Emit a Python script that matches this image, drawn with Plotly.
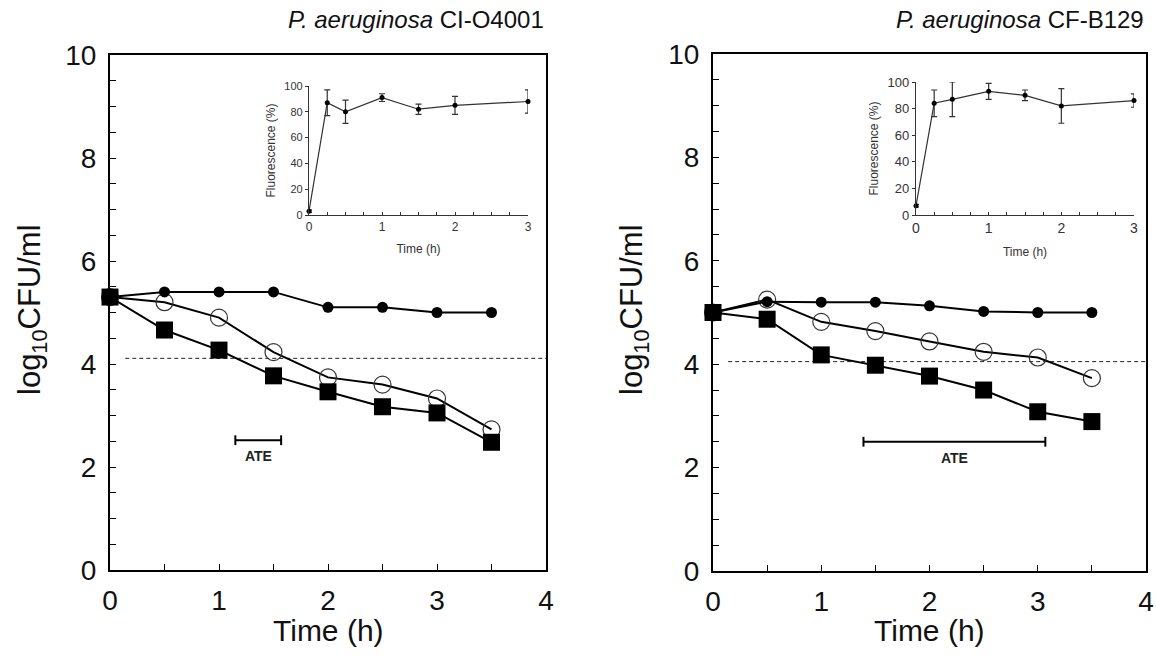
import plotly.graph_objects as go

W, H = 1156, 657

# ---------------- data ----------------
time_main = [0, 0.5, 1, 1.5, 2, 2.5, 3, 3.5]

# Left panel: P. aeruginosa CI-O4001
left_filled = [5.3, 5.4, 5.4, 5.4, 5.1, 5.1, 5.0, 5.0]
left_open = [5.3, 5.2, 4.9, 4.23, 3.74, 3.6, 3.33, 2.73]
left_square = [5.3, 4.66, 4.27, 3.77, 3.46, 3.17, 3.05, 2.48]
left_threshold = 4.11
left_ate = [1.15, 1.57]
left_ate_y = 2.52

# Right panel: P. aeruginosa CF-B129
right_filled = [5.0, 5.21, 5.2, 5.2, 5.13, 5.02, 5.0, 5.0]
right_open = [5.0, 5.25, 4.82, 4.64, 4.44, 4.24, 4.13, 3.73]
right_square = [5.0, 4.87, 4.18, 3.98, 3.77, 3.5, 3.08, 2.89]
right_threshold = 4.05
right_ate = [1.39, 3.07]
right_ate_y = 2.5

threshold_start = 0.14

# Insets (fluorescence %)
time_inset = [0, 0.25, 0.5, 1, 1.5, 2, 3]
left_fluor = [3, 87, 80, 91, 82, 85, 88]
left_fluor_err = [1, 10, 9, 3, 4, 7, 9]
right_fluor = [7, 84, 87, 93, 90, 82, 86]
right_fluor_err = [1, 10, 13, 6, 4, 13, 5]

titles = ["<i>P. aeruginosa</i> CI-O4001", "<i>P. aeruginosa</i> CF-B129"]

FONT = "Liberation Sans, Arial, sans-serif"

fig = go.Figure()

def px_x(a, b):
    return [a / W, b / W]

def px_y(top, bottom):
    return [(H - bottom) / H, (H - top) / H]

panels = [
    dict(xa="x", ya="y", filled=left_filled, opn=left_open, sq=left_square,
         thr=left_threshold, ate=left_ate, ate_y=left_ate_y),
    dict(xa="x2", ya="y2", filled=right_filled, opn=right_open, sq=right_square,
         thr=right_threshold, ate=right_ate, ate_y=right_ate_y),
]

for p in panels:
    fig.add_trace(go.Scatter(x=[threshold_start, 4], y=[p["thr"], p["thr"]], mode="lines",
                             line=dict(color="#222", width=1, dash="4px,3px"),
                             xaxis=p["xa"], yaxis=p["ya"], showlegend=False, hoverinfo="skip"))
    fig.add_trace(go.Scatter(x=time_main, y=p["opn"], mode="lines+markers",
                             line=dict(color="black", width=2),
                             marker=dict(symbol="circle-open", size=17, color="#333",
                                         line=dict(width=1.2, color="#333")),
                             xaxis=p["xa"], yaxis=p["ya"], showlegend=False, cliponaxis=False))
    fig.add_trace(go.Scatter(x=time_main, y=p["filled"], mode="lines+markers",
                             line=dict(color="black", width=2),
                             marker=dict(symbol="circle", size=11, color="black"),
                             xaxis=p["xa"], yaxis=p["ya"], showlegend=False, cliponaxis=False))
    fig.add_trace(go.Scatter(x=time_main, y=p["sq"], mode="lines+markers",
                             line=dict(color="black", width=2),
                             marker=dict(symbol="square", size=17, color="black"),
                             xaxis=p["xa"], yaxis=p["ya"], showlegend=False, cliponaxis=False))
    fig.add_trace(go.Scatter(x=p["ate"], y=[p["ate_y"], p["ate_y"]], mode="lines+markers",
                             line=dict(color="black", width=2),
                             marker=dict(symbol="line-ns-open", size=7, color="black",
                                         line=dict(width=2, color="black")),
                             xaxis=p["xa"], yaxis=p["ya"], showlegend=False))
    fig.add_annotation(x=sum(p["ate"]) / 2, y=p["ate_y"], xref=p["xa"], yref=p["ya"],
                       text="<b>ATE</b>", showarrow=False, yshift=-16,
                       font=dict(family=FONT, size=14, color="#222"))

insets = [
    dict(xa="x3", ya="y3", y=left_fluor, e=left_fluor_err),
    dict(xa="x4", ya="y4", y=right_fluor, e=right_fluor_err),
]
for q in insets:
    fig.add_trace(go.Scatter(x=time_inset, y=q["y"], mode="lines+markers",
                             line=dict(color="#333", width=1.2),
                             marker=dict(symbol="circle", size=5, color="black"),
                             error_y=dict(type="data", array=q["e"], visible=True,
                                          color="#333", thickness=1.2, width=3),
                             xaxis=q["xa"], yaxis=q["ya"], showlegend=False, cliponaxis=False))

main_x = dict(range=[0, 4], dtick=1, tick0=0, showline=True, linewidth=2, linecolor="black",
              mirror=True, ticks="inside", ticklen=6, tickwidth=1.2, tickcolor="black",
              minor=dict(dtick=0.5, ticks="inside", ticklen=6, tickwidth=1.2, tickcolor="black"),
              showgrid=False, zeroline=False, automargin=False,
              tickfont=dict(family=FONT, size=28, color="#111"), ticklabelstandoff=4)
main_y = dict(range=[0, 10], dtick=2, tick0=0, showline=True, linewidth=2, linecolor="black",
              mirror=True, ticks="inside", ticklen=6, tickwidth=1.2, tickcolor="black",
              minor=dict(dtick=0.5, ticks="inside", ticklen=6, tickwidth=1.2, tickcolor="black"),
              showgrid=False, zeroline=False, automargin=False,
              tickfont=dict(family=FONT, size=28, color="#111"), ticklabelstandoff=6)

def inset_x(fs):
    return dict(range=[0, 3], dtick=1, tick0=0, showline=True, linewidth=1.2, linecolor="#333",
                mirror=False, ticks="inside", ticklen=3, tickwidth=1, tickcolor="#333",
                minor=dict(dtick=0.25, ticks="inside", ticklen=3, tickwidth=1, tickcolor="#333"),
                showgrid=False, zeroline=False, automargin=False,
                tickfont=dict(family=FONT, size=fs, color="#333"),
                title=dict(text="Time (h)", font=dict(family=FONT, size=12, color="#333"),
                           standoff=12))

def inset_y(fs):
    return dict(range=[0, 100], dtick=20, tick0=0, showline=True, linewidth=1.2, linecolor="#333",
                mirror=False, ticks="outside", ticklen=3, tickwidth=1, tickcolor="#333",
                showgrid=False, zeroline=False, automargin=False,
                tickfont=dict(family=FONT, size=fs, color="#333"),
                title=dict(text="Fluorescence (%)", font=dict(family=FONT, size=12, color="#333"),
                           standoff=6))

fig.update_layout(
    width=W, height=H,
    margin=dict(l=0, r=0, t=0, b=0, autoexpand=False),
    paper_bgcolor="white", plot_bgcolor="rgba(0,0,0,0)",
    xaxis=dict(main_x, domain=px_x(110, 546), anchor="y"),
    yaxis=dict(main_y, domain=px_y(55, 570), anchor="x"),
    xaxis2=dict(main_x, domain=px_x(713, 1146), anchor="y2"),
    yaxis2=dict(main_y, domain=px_y(54, 571), anchor="x2"),
    xaxis3=dict(inset_x(12), domain=px_x(309, 528), anchor="y3"),
    yaxis3=dict(inset_y(11), domain=px_y(86, 215), anchor="x3"),
    xaxis4=dict(inset_x(14), domain=px_x(916, 1134), anchor="y4"),
    yaxis4=dict(inset_y(13), domain=px_y(82, 215), anchor="x4"),
)

for xr, t in [(546, titles[0]), (1146, titles[1])]:
    fig.add_annotation(x=xr / W, y=(H - 19) / H, xref="paper", yref="paper", text=t,
                       xanchor="right", yanchor="middle", showarrow=False,
                       font=dict(family=FONT, size=24, color="#111"))

for xc in [(110 + 546) / 2, (713 + 1146) / 2]:
    fig.add_annotation(x=xc / W, y=(H - 630) / H, xref="paper", yref="paper", text="Time (h)",
                       xanchor="center", yanchor="middle", showarrow=False,
                       font=dict(family=FONT, size=30, color="#111"))
for xc in [32, 634]:
    fig.add_annotation(x=xc / W, y=(H - 310) / H, xref="paper", yref="paper",
                       text="log<sub>10</sub>CFU/ml", textangle=-90,
                       xanchor="center", yanchor="middle", showarrow=False,
                       font=dict(family=FONT, size=31, color="#111"))

fig.write_html("out.html", config={"displayModeBar": False},
               post_script="document.body.style.margin='0';document.body.style.overflow='hidden';")
